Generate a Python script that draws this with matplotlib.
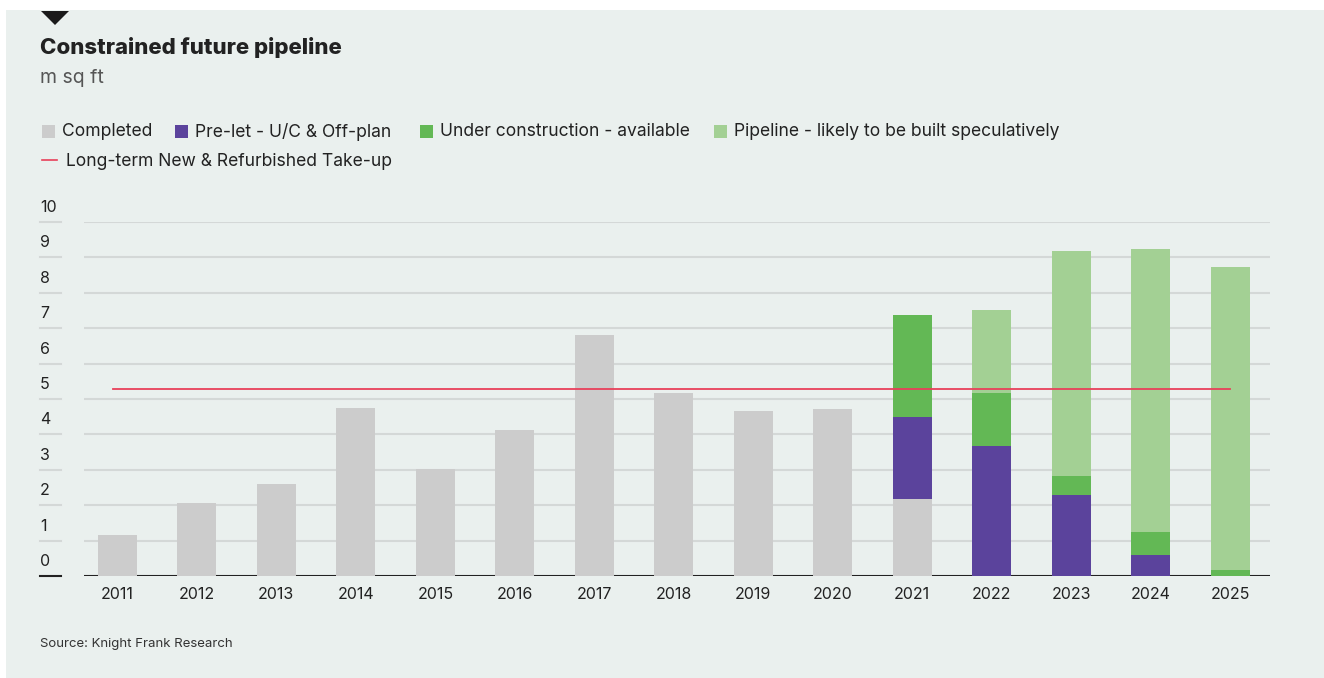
import matplotlib.pyplot as plt
from matplotlib.patches import Rectangle, Polygon
import numpy as np

years = ['2011', '2012', '2013', '2014', '2015', '2016', '2017', '2018',
         '2019', '2020', '2021', '2022', '2023', '2024', '2025']
completed = [1.15, 2.05, 2.59, 4.74, 3.01, 4.12, 6.80, 5.16, 4.65, 4.71,
             2.17, 0, 0, 0, 0]
pre_let = [0, 0, 0, 0, 0, 0, 0, 0, 0, 0, 2.31, 3.66, 2.28, 0.58, 0]
under_construction = [0, 0, 0, 0, 0, 0, 0, 0, 0, 0, 2.88, 1.50, 0.54, 0.65, 0.16]
pipeline = [0, 0, 0, 0, 0, 0, 0, 0, 0, 0, 0, 2.35, 6.35, 8.00, 8.56]
take_up = 5.28

series_names = ['Completed', 'Pre-let - U/C & Off-plan',
                'Under construction - available',
                'Pipeline - likely to be built speculatively']
series_colors = ['#cccccc', '#5b439c', '#63b855', '#a3d094']
line_name = 'Long-term New & Refurbished Take-up'
line_color = '#e8405a'

bg = '#eaf0ee'
text_dark = '#222222'
plt.rcParams['font.family'] = ['Inter', 'DejaVu Sans']

W, H = 1324, 678
fig = plt.figure(figsize=(W / 100, H / 100), dpi=100, facecolor='white')


def fx(px):
    return px / W


def fy(py):
    return 1 - py / H


# background panel and marker triangle
fig.patches.append(Rectangle((fx(6), 0), 1 - fx(6), fy(10), transform=fig.transFigure,
                             facecolor=bg, edgecolor='none', zorder=-10))
fig.patches.append(Polygon([(fx(41), fy(11)), (fx(69), fy(11)), (fx(55), fy(25))],
                           closed=True, transform=fig.transFigure,
                           facecolor='#1a1a1a', edgecolor='none', zorder=5))

fig.text(fx(40), fy(48), 'Constrained future pipeline', fontsize=16, fontweight='heavy',
         color=text_dark, va='center', ha='left')
fig.text(fx(40), fy(78), 'm sq ft', fontsize=14, color='#555555', va='center', ha='left')

# legend
leg_x = [42, 175, 420, 714]
for x, name, col in zip(leg_x, series_names, series_colors):
    fig.patches.append(Rectangle((fx(x), fy(138)), fx(13), 13 / H, transform=fig.transFigure,
                                 facecolor=col, edgecolor='none'))
    fig.text(fx(x + 20), fy(132), name, fontsize=12.6, color=text_dark, va='center', ha='left')
fig.lines.append(plt.Line2D([fx(42), fx(57)], [fy(160), fy(160)], transform=fig.transFigure,
                            color=line_color, lw=1.2))
fig.text(fx(66), fy(161), line_name, fontsize=12.6, color=text_dark, va='center', ha='left')

fig.text(fx(40), fy(644), 'Source: Knight Frank Research', fontsize=9.5, color='#333333',
         va='center', ha='left')

# chart
ax = fig.add_axes([fx(84), fy(576), fx(1270) - fx(84), fy(222) - fy(576)])
ax.set_facecolor('none')
x = np.arange(len(years))
bottom = np.zeros(len(years))
for vals, col in zip([completed, pre_let, under_construction, pipeline], series_colors):
    ax.bar(x, vals, width=0.49, bottom=bottom, color=col, zorder=3)
    bottom += np.array(vals)

ax.plot([-0.05, 14.0], [take_up, take_up], color=line_color, lw=1.3, zorder=4)

ax.set_xlim(-0.42, 14.5)
ax.set_ylim(0, 10)
yt = np.arange(0, 11)
for v in yt[1:]:
    ax.axhline(v, color='#d4d8d7', lw=1.5, zorder=1)
ax.axhline(0, color='#222222', lw=1.5, zorder=2)

for s in ax.spines.values():
    s.set_visible(False)
ax.set_yticks([])
ax.set_xticks(x)
ax.set_xticklabels(years, fontsize=11.5, color=text_dark)
ax.tick_params(axis='x', length=0, pad=8)

# y labels sit above short stubs left of the plot
tr = ax.get_yaxis_transform()
stub0 = (40 - 84) / (1270 - 84)
stub1 = (61 - 84) / (1270 - 84)
for v in yt:
    ax.plot([stub0, stub1], [v, v], transform=tr, clip_on=False,
            color='#222222' if v == 0 else '#d4d8d7', lw=1.5)
    ax.annotate(str(v), xy=(stub0, v), xycoords=tr, xytext=(0, 5), textcoords='offset points',
                fontsize=11.5, color=text_dark, ha='left', va='bottom')

fig.savefig('out.png', dpi=100, facecolor='white')
